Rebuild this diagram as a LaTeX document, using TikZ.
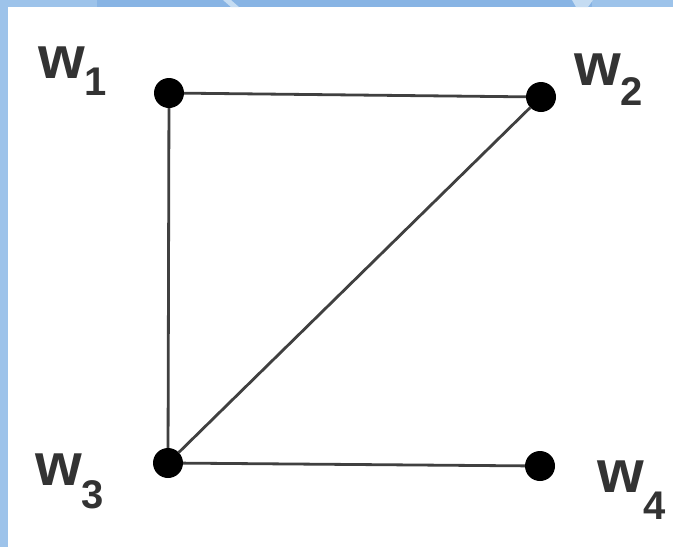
\documentclass[tikz,border=0pt]{standalone}
\usepackage{fontspec}
\setmainfont{Liberation Sans}
\definecolor{bandmid}{HTML}{88B4E4}
\definecolor{bandlight}{HTML}{9DC3EA}
\definecolor{bandpale}{HTML}{C5DCF2}
\definecolor{ink}{HTML}{333333}
\definecolor{edgeink}{HTML}{404040}
\tikzset{
  vertex/.style={circle,fill=black,inner sep=0pt,minimum size=30pt},
  edge/.style={draw=edgeink,line width=2.8pt},
  lbl/.style={inner sep=0pt,text=ink,font=\bfseries\fontsize{60}{60}\selectfont}
}
\newcommand{\subnum}[2]{\raisebox{-#1pt}{\fontsize{40}{40}\selectfont #2}}
\begin{document}
\begin{tikzpicture}[x=1pt,y=-1pt]
\useasboundingbox (0,0) rectangle (673,547);
\fill[white] (0,0) rectangle (673,547);
% top and left bands
\fill[bandmid] (0,0) rectangle (673,7);
\fill[bandlight] (0,0) rectangle (97,7);
\fill[bandlight] (592,0) rectangle (673,7);
\fill[bandpale] (223,0) -- (231,0) -- (239,7) -- (231,7) -- cycle;
\fill[bandpale] (572,0) -- (593,0) -- (588,7) -- (576,7) -- cycle;
\fill[bandlight] (0,0) rectangle (8,547);
% vertices
\node[vertex] (w1) at (169,93) {};
\node[vertex] (w2) at (541,97) {};
\node[vertex] (w3) at (168,463) {};
\node[vertex] (w4) at (540,466) {};
% edges
\draw[edge] (w1) -- (w2);
\draw[edge] (w1) -- (w3);
\draw[edge] (w2) -- (w3);
\draw[edge] (w3) -- (w4);
% labels
\node[lbl,anchor=base west] (l1) at (38,78) {w\subnum{17}{1}};
\node[lbl,anchor=base west] (l2) at (574,85) {w\subnum{20}{2}};
\node[lbl,anchor=base west] (l3) at (35,485) {w\subnum{23}{3}};
\node[lbl,anchor=base west] (l4) at (597,492) {w\subnum{27}{4}};
\end{tikzpicture}
\end{document}
